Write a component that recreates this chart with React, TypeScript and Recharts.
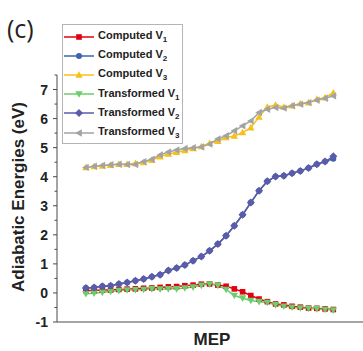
import { LineChart, Line, XAxis, YAxis, Legend } from "recharts";

// points along the minimum energy path
const mepPoints = [
  0, 1, 2, 3, 4, 5, 6, 7, 8, 9, 10, 11, 12, 13, 14, 15, 16, 17, 18, 19, 20,
  21, 22, 23, 24, 25, 26, 27, 28, 29, 30,
];

const computedV1 = [
  0.08, 0.08, 0.1, 0.1, 0.12, 0.13, 0.14, 0.16, 0.17, 0.19, 0.21, 0.22, 0.25,
  0.27, 0.3, 0.31, 0.27, 0.23, 0.14, 0.04, -0.09, -0.21, -0.3, -0.38, -0.41,
  -0.46, -0.49, -0.52, -0.53, -0.55, -0.57,
];
const computedV2 = [
  0.17, 0.19, 0.23, 0.25, 0.31, 0.36, 0.42, 0.48, 0.56, 0.63, 0.77, 0.86, 0.96,
  1.11, 1.25, 1.45, 1.68, 1.97, 2.31, 2.69, 3.11, 3.52, 3.84, 4.01, 4.03, 4.12,
  4.2, 4.3, 4.43, 4.52, 4.62,
];
const computedV3 = [
  4.32, 4.35, 4.37, 4.4, 4.43, 4.43, 4.46, 4.49, 4.57, 4.69, 4.78, 4.84, 4.9,
  4.97, 5.04, 5.15, 5.22, 5.35, 5.4, 5.52, 5.69, 6.06, 6.4, 6.47, 6.4, 6.44,
  6.52, 6.55, 6.67, 6.72, 6.89,
];
const transformedV1 = [
  -0.03, -0.01, 0.02, 0.05, 0.08, 0.1, 0.11, 0.12, 0.14, 0.13, 0.14, 0.14,
  0.17, 0.2, 0.26, 0.31, 0.26, 0.12, -0.09, -0.18, -0.26, -0.3, -0.33, -0.41,
  -0.46, -0.49, -0.52, -0.53, -0.55, -0.57, -0.59,
];
const transformedV2 = [
  0.17, 0.19, 0.23, 0.25, 0.31, 0.36, 0.42, 0.48, 0.56, 0.63, 0.77, 0.86, 0.96,
  1.11, 1.25, 1.45, 1.68, 1.97, 2.31, 2.69, 3.11, 3.52, 3.84, 4.01, 4.03, 4.12,
  4.2, 4.3, 4.43, 4.52, 4.7,
];
const transformedV3 = [
  4.32, 4.36, 4.39, 4.41, 4.43, 4.42, 4.42, 4.52, 4.6, 4.75, 4.85, 4.92, 4.97,
  5.0, 5.02, 5.12, 5.3, 5.41, 5.58, 5.75, 5.92, 6.21, 6.32, 6.38, 6.36, 6.44,
  6.49, 6.55, 6.63, 6.7, 6.78,
];

const yMajorTicks = [-1, 0, 1, 2, 3, 4, 5, 6, 7];
const yMinorTicks = [-0.5, 0.5, 1.5, 2.5, 3.5, 4.5, 5.5, 6.5, 7.5];

type Shape = "square" | "circle" | "up" | "down" | "diamond" | "left";

const series: {
  key: string;
  label: string;
  sub: string;
  color: string;
  shape: Shape;
}[] = [
  { key: "cV1", label: "Computed V", sub: "1", color: "#e3000f", shape: "square" },
  { key: "cV2", label: "Computed V", sub: "2", color: "#3d63ad", shape: "circle" },
  { key: "cV3", label: "Computed V", sub: "3", color: "#f5c01c", shape: "up" },
  { key: "tV1", label: "Transformed V", sub: "1", color: "#6ccd6c", shape: "down" },
  { key: "tV2", label: "Transformed V", sub: "2", color: "#5b5ba9", shape: "diamond" },
  { key: "tV3", label: "Transformed V", sub: "3", color: "#a3a3a3", shape: "left" },
];

const rows = mepPoints.map((m, i) => ({
  mep: m,
  cV1: computedV1[i],
  cV2: computedV2[i],
  cV3: computedV3[i],
  tV1: transformedV1[i],
  tV2: transformedV2[i],
  tV3: transformedV3[i],
}));

const AXIS_X = 57;
const AXIS_COLOR = "#4a4a4a";
const FONT = "'Liberation Sans', Arial, sans-serif";

function Marker({ shape, cx, cy, color }: { shape: Shape; cx: number; cy: number; color: string }) {
  switch (shape) {
    case "square":
      return <rect x={cx - 2.8} y={cy - 2.8} width={5.6} height={5.6} fill={color} />;
    case "circle":
      return <circle cx={cx} cy={cy} r={3} fill={color} />;
    case "up":
      return <polygon points={`${cx},${cy - 3.8} ${cx + 3.7},${cy + 2.8} ${cx - 3.7},${cy + 2.8}`} fill={color} />;
    case "down":
      return <polygon points={`${cx},${cy + 3.8} ${cx + 3.7},${cy - 2.8} ${cx - 3.7},${cy - 2.8}`} fill={color} />;
    case "diamond":
      return <polygon points={`${cx},${cy - 4} ${cx + 4},${cy} ${cx},${cy + 4} ${cx - 4},${cy}`} fill={color} />;
    default:
      return <polygon points={`${cx - 3.8},${cy} ${cx + 2.8},${cy - 3.7} ${cx + 2.8},${cy + 3.7}`} fill={color} />;
  }
}

function YTick(props: any) {
  const { y, payload } = props;
  const v = payload.value as number;
  const major = Number.isInteger(v);
  return (
    <g>
      <line x1={AXIS_X - (major ? 4 : 2.5)} x2={AXIS_X} y1={y} y2={y} stroke={AXIS_COLOR} strokeWidth={1} />
      {major && (
        <text
          x={48}
          y={y}
          textAnchor="end"
          dominantBaseline="central"
          fontFamily={FONT}
          fontWeight="bold"
          fontSize={14}
          fill="#222"
        >
          {v}
        </text>
      )}
    </g>
  );
}

function LegendBox() {
  return (
    <div
      style={{
        border: "1px solid #b5b5b5",
        background: "#fff",
        padding: "2px 3px 1px 1px",
        fontFamily: FONT,
        fontWeight: "bold",
        fontSize: 11,
        color: "#222",
      }}
    >
      {series.map((s) => (
        <div key={s.key} style={{ display: "flex", alignItems: "center", height: 19.2 }}>
          <svg width={32} height={10} style={{ marginRight: 2 }}>
            <line x1={0} x2={30} y1={5} y2={5} stroke={s.color} strokeWidth={1.5} />
            <Marker shape={s.shape} cx={15} cy={5} color={s.color} />
          </svg>
          <span style={{ whiteSpace: "nowrap" }}>
            {s.label}
            <sub style={{ fontSize: 8 }}>{s.sub}</sub>
          </span>
        </div>
      ))}
    </div>
  );
}

export default function App() {
  return (
    <div style={{ position: "absolute", left: 0, top: 0, width: 363, height: 351, background: "#fff" }}>
      <LineChart width={363} height={351} data={rows} margin={{ top: 75, right: 0, bottom: 28, left: AXIS_X - 1 }}>
        <XAxis
          dataKey="mep"
          type="number"
          domain={[-3.5, 33.6]}
          allowDataOverflow
          height={1}
          tick={false}
          tickLine={false}
          axisLine={{ stroke: AXIS_COLOR, strokeWidth: 1 }}
        />
        <YAxis
          type="number"
          domain={[-1, 7.5]}
          allowDataOverflow
          ticks={[...yMajorTicks, ...yMinorTicks].sort((a, b) => a - b)}
          interval={0}
          width={1}
          tickLine={false}
          tick={YTick}
          axisLine={{ stroke: AXIS_COLOR, strokeWidth: 1 }}
        />
        <Legend
          layout="vertical"
          align="center"
          verticalAlign="middle"
          content={LegendBox}
          wrapperStyle={{ left: 62, top: 24, width: "auto", height: "auto" }}
        />
        {series.map((s) => (
          <Line
            key={s.key}
            dataKey={s.key}
            name={s.label + s.sub}
            type="linear"
            stroke={s.color}
            strokeWidth={1.5}
            isAnimationActive={false}
            activeDot={false}
            dot={(p: any) => (
              <Marker key={`${s.key}-${p.index}`} shape={s.shape} cx={p.cx} cy={p.cy} color={s.color} />
            )}
          />
        ))}
      </LineChart>
      <div
        style={{
          position: "absolute",
          left: 7,
          top: 13,
          fontFamily: "'Open Sans', sans-serif",
          fontSize: 25,
          color: "#222",
          lineHeight: "30px",
        }}
      >
        (c)
      </div>
      <div
        style={{
          position: "absolute",
          left: 19,
          top: 197,
          transform: "translate(-50%, -50%) rotate(-90deg)",
          whiteSpace: "nowrap",
          fontFamily: FONT,
          fontWeight: "bold",
          fontSize: 17,
          color: "#222",
        }}
      >
        Adiabatic Energies (eV)
      </div>
      <div
        style={{
          position: "absolute",
          left: 212,
          top: 340,
          transform: "translate(-50%, -50%)",
          whiteSpace: "nowrap",
          fontFamily: FONT,
          fontWeight: "bold",
          fontSize: 17,
          color: "#222",
        }}
      >
        MEP
      </div>
    </div>
  );
}
